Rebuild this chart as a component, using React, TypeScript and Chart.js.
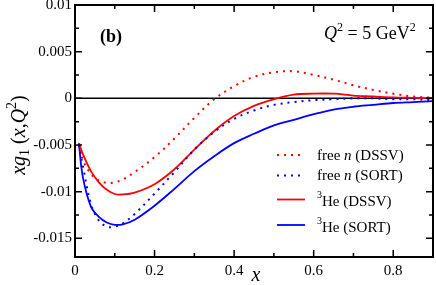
import React, { useEffect, useRef } from "react";
import { Chart, registerables } from "chart.js";

Chart.register(...registerables);

// ---- data ----
const xValues = [0.01, 0.02, 0.04, 0.06, 0.08, 0.1, 0.12, 0.15, 0.2, 0.25, 0.3, 0.35, 0.4, 0.45, 0.5, 0.55, 0.6, 0.65, 0.7, 0.75, 0.8, 0.85, 0.9];
const freeNDSSV = [-0.0048, -0.0066, -0.0081, -0.0088, -0.00905, -0.009, -0.0087, -0.0079, -0.0063, -0.0043, -0.0021, -0.0001, 0.0013, 0.0023, 0.0028, 0.0029, 0.0025, 0.002, 0.0014, 0.0009, 0.0005, 0.0002, 0.00005];
const freeNSORT = [-0.005, -0.0073, -0.0113, -0.0131, -0.01375, -0.01375, -0.0134, -0.0124, -0.0102, -0.0079, -0.0055, -0.0036, -0.0022, -0.0013, -0.0007, -0.0004, -0.0002, -0.0001, 0.0, 0.0, -0.0001, -0.0001, -0.0002];
const he3DSSV = [-0.0048, -0.006, -0.0078, -0.009, -0.0098, -0.01025, -0.0103, -0.0101, -0.0092, -0.0076, -0.0055, -0.0035, -0.0019, -0.0008, -0.0001, 0.0004, 0.0005, 0.0005, 0.0003, 0.0002, 0.0001, 0.00005, 0.0];
const he3SORT = [-0.005, -0.0085, -0.0116, -0.0127, -0.0133, -0.01355, -0.0135, -0.013, -0.0115, -0.0097, -0.0078, -0.0062, -0.0048, -0.0038, -0.0029, -0.0023, -0.0017, -0.0012, -0.0009, -0.0007, -0.0005, -0.0004, -0.0003];

const xTickValues = [0, 0.2, 0.4, 0.6, 0.8];
const xTickLabels = ["0", "0.2", "0.4", "0.6", "0.8"];
const xMinorTicks = [0.1, 0.3, 0.5, 0.7];
const yTickValues = [-0.015, -0.01, -0.005, 0, 0.005, 0.01];
const yTickLabels = ["-0.015", "-0.01", "-0.005", "0", "0.005", "0.01"];
const yMinorTicks = [-0.0125, -0.0075, -0.0025, 0.0025, 0.0075];

const RED = "#ff0000";
const BLUE = "#0000ff";
const SERIF = "'Liberation Serif', 'Times New Roman', serif";

type Part = { t: string; font: string; dy?: number };

function drawParts(ctx: CanvasRenderingContext2D, parts: Part[], x: number, y: number, align: "left" | "center") {
  let total = 0;
  for (const p of parts) {
    ctx.font = p.font;
    total += ctx.measureText(p.t).width;
  }
  let cx = align === "center" ? x - total / 2 : x;
  ctx.textAlign = "left";
  ctx.textBaseline = "alphabetic";
  for (const p of parts) {
    ctx.font = p.font;
    ctx.fillText(p.t, cx, y + (p.dy || 0));
    cx += ctx.measureText(p.t).width;
  }
}

const decorPlugin = {
  id: "decor",
  beforeDatasetsDraw(chart: any) {
    const { ctx, chartArea, scales } = chart;
    const y0 = scales.y.getPixelForValue(0);
    ctx.save();
    ctx.strokeStyle = "#000";
    ctx.lineWidth = 1.5;
    ctx.beginPath();
    ctx.moveTo(chartArea.left, y0);
    ctx.lineTo(chartArea.right, y0);
    ctx.stroke();
    ctx.restore();
  },
  afterDraw(chart: any) {
    const { ctx, chartArea, scales } = chart;
    const { left, right, top, bottom } = chartArea;
    const xs = scales.x;
    const ys = scales.y;
    ctx.save();
    ctx.strokeStyle = "#000";
    ctx.fillStyle = "#000";
    // ticks
    ctx.lineWidth = 1.5;
    const major = 7;
    const minor = 4;
    ctx.beginPath();
    const xt = (v: number, len: number) => {
      const px = xs.getPixelForValue(v);
      ctx.moveTo(px, bottom);
      ctx.lineTo(px, bottom - len);
      ctx.moveTo(px, top);
      ctx.lineTo(px, top + len);
    };
    const yt = (v: number, len: number) => {
      const py = ys.getPixelForValue(v);
      ctx.moveTo(left, py);
      ctx.lineTo(left + len, py);
      ctx.moveTo(right, py);
      ctx.lineTo(right - len, py);
    };
    xTickValues.forEach((v) => xt(v, major));
    xMinorTicks.forEach((v) => xt(v, minor));
    yTickValues.forEach((v) => yt(v, major));
    yMinorTicks.forEach((v) => yt(v, minor));
    ctx.stroke();
    // frame
    ctx.lineWidth = 2;
    ctx.strokeRect(left, top, right - left, bottom - top);

    // legend
    const legendItems = [
      { color: RED, dash: [2, 5], ly: 155, by: 160, parts: [
        { t: "free ", font: `15px ${SERIF}` },
        { t: "n", font: `italic 15px ${SERIF}` },
        { t: " (DSSV)", font: `15px ${SERIF}` },
      ] },
      { color: BLUE, dash: [2, 5], ly: 175.5, by: 180, parts: [
        { t: "free ", font: `15px ${SERIF}` },
        { t: "n", font: `italic 15px ${SERIF}` },
        { t: " (SORT)", font: `15px ${SERIF}` },
      ] },
      { color: RED, dash: [], ly: 199.5, by: 206, parts: [
        { t: "3", font: `10px ${SERIF}`, dy: -8 },
        { t: "He (DSSV)", font: `15px ${SERIF}` },
      ] },
      { color: BLUE, dash: [], ly: 225, by: 232, parts: [
        { t: "3", font: `10px ${SERIF}`, dy: -8 },
        { t: "He (SORT)", font: `15px ${SERIF}` },
      ] },
    ];
    for (const it of legendItems) {
      ctx.save();
      ctx.strokeStyle = it.color;
      ctx.lineWidth = it.dash.length ? 2 : 1.8;
      ctx.setLineDash(it.dash);
      ctx.beginPath();
      ctx.moveTo(277, it.ly);
      ctx.lineTo(305, it.ly);
      ctx.stroke();
      ctx.restore();
      ctx.fillStyle = "#000";
      drawParts(ctx, it.parts, 317, it.by, "left");
    }

    // annotations
    drawParts(ctx, [{ t: "(b)", font: `bold 18px ${SERIF}` }], 100, 42, "left");
    drawParts(ctx, [
      { t: "Q", font: `italic 18px ${SERIF}` },
      { t: "2", font: `12px ${SERIF}`, dy: -8 },
      { t: " = 5 GeV", font: `18px ${SERIF}` },
      { t: "2", font: `12px ${SERIF}`, dy: -8 },
    ], 324, 39, "left");

    // x title
    drawParts(ctx, [{ t: "x", font: `italic 20px ${SERIF}` }], 256, 281, "center");

    // y title
    ctx.save();
    ctx.translate(25, 135);
    ctx.rotate(-Math.PI / 2);
    drawParts(ctx, [
      { t: "x", font: `italic 20px ${SERIF}` },
      { t: "g", font: `italic 20px ${SERIF}` },
      { t: "1", font: `14px ${SERIF}`, dy: 4 },
      { t: " (", font: `20px ${SERIF}` },
      { t: "x", font: `italic 20px ${SERIF}` },
      { t: ",", font: `20px ${SERIF}` },
      { t: "Q", font: `italic 20px ${SERIF}` },
      { t: "2", font: `14px ${SERIF}`, dy: -9 },
      { t: ")", font: `20px ${SERIF}` },
    ], 0, 0, "center");
    ctx.restore();

    ctx.restore();
  },
};

function lookup(values: number[], labels: string[], v: number) {
  for (let i = 0; i < values.length; i++) {
    if (Math.abs(values[i] - v) < 1e-9) return labels[i];
  }
  return "";
}

export default function App() {
  const ref = useRef<HTMLCanvasElement | null>(null);
  useEffect(() => {
    if (!ref.current) return;
    const mk = (ys: number[]) => xValues.map((x, i) => ({ x, y: ys[i] }));
    const tickFont = { family: SERIF, size: 15 };
    const common = { pointRadius: 0, tension: 0.35, fill: false };
    const chart = new Chart(ref.current, {
      type: "line",
      data: {
        datasets: [
          { data: mk(freeNDSSV), borderColor: RED, borderWidth: 2, borderDash: [2, 5], ...common },
          { data: mk(freeNSORT), borderColor: BLUE, borderWidth: 2, borderDash: [2, 5], ...common },
          { data: mk(he3DSSV), borderColor: RED, borderWidth: 1.8, ...common },
          { data: mk(he3SORT), borderColor: BLUE, borderWidth: 1.8, ...common },
        ] as any,
      },
      options: {
        animation: false,
        responsive: false,
        maintainAspectRatio: false,
        layout: { padding: { top: 5, right: 3, left: 0, bottom: 0 } },
        plugins: { legend: { display: false }, tooltip: { enabled: false } },
        scales: {
          x: {
            type: "linear",
            min: 0,
            max: 0.9,
            grid: { display: false, drawTicks: false },
            border: { display: false },
            ticks: {
              font: tickFont,
              color: "#000",
              padding: 5,
              maxRotation: 0,
              autoSkip: false,
              callback: (v: any) => lookup(xTickValues, xTickLabels, Number(v)),
            },
            afterBuildTicks: (s: any) => {
              s.ticks = xTickValues.map((v) => ({ value: v }));
            },
            afterFit: (s: any) => {
              s.height = 28;
              s.paddingLeft = 0;
              s.paddingRight = 0;
            },
          },
          y: {
            type: "linear",
            min: -0.017,
            max: 0.01,
            grid: { display: false, drawTicks: false },
            border: { display: false },
            ticks: {
              font: tickFont,
              color: "#000",
              padding: 3,
              autoSkip: false,
              callback: (v: any) => lookup(yTickValues, yTickLabels, Number(v)),
            },
            afterBuildTicks: (s: any) => {
              s.ticks = yTickValues.map((v) => ({ value: v }));
            },
            afterFit: (s: any) => {
              s.width = 75;
              s.paddingTop = 0;
              s.paddingBottom = 0;
            },
          },
        },
      } as any,
      plugins: [decorPlugin],
    });
    return () => chart.destroy();
  }, []);
  return (
    <div style={{ position: "absolute", left: 0, top: 0, width: 436, height: 285, background: "#fff" }}>
      <canvas ref={ref} width={436} height={285} style={{ display: "block" }} />
    </div>
  );
}
